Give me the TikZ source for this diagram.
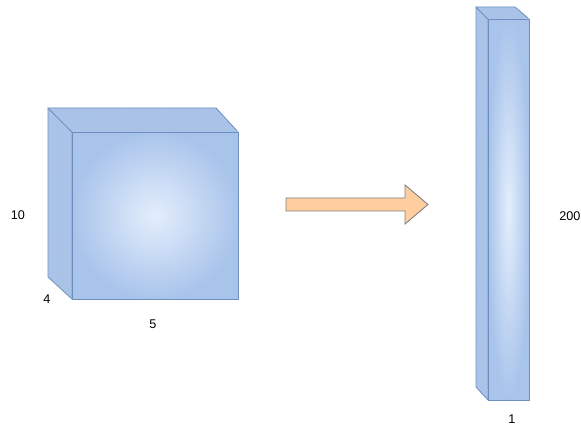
\documentclass[tikz,border=0pt]{standalone}
\usepackage{fontspec}
\setmainfont{Liberation Sans}
\usetikzlibrary{patterns.meta}

\definecolor{boxline}{HTML}{6C8EBF}
\definecolor{boxfill}{HTML}{A9C4EB}
\definecolor{boxlight}{HTML}{E4EEFC}
\definecolor{arrowfill}{HTML}{FFCE9F}
\definecolor{arrowline}{HTML}{808080}

\tikzset{
	face/.style={draw=boxline, line width=0.5pt, line join=round},
	sideface/.style={face, fill=boxfill, postaction={pattern={Lines[angle=45, distance=1.6pt, line width=0.25pt]}, pattern color=boxline!55}},
	frontface/.style={face, inner color=boxlight, outer color=boxfill},
	dimlabel/.style={font=\fontsize{7.2}{8.6}\selectfont, inner sep=0pt}
}

\begin{document}
\begin{tikzpicture}[x=0.02cm, y=-0.02cm]
			%%%%% START %%%%%
			\useasboundingbox (0, 0) rectangle (581, 428);
			
			% block 10 x 5 x 4
			\draw[sideface] (48, 108) -- (72, 132) -- (72, 299) -- (48, 277) -- cycle;
			\draw[sideface] (48, 108) -- (216, 108) -- (238, 132) -- (72, 132) -- cycle;
			\draw[frontface] (72, 132) rectangle (238, 299);
			
			\node[dimlabel] (height) at (18, 215) {10};
			\node[dimlabel] (depth) at (47, 299) {4};
			\node[dimlabel] (width) at (153, 324) {5};
			
			% reshape arrow
			\draw[fill=arrowfill, draw=arrowline, line width=0.5pt, line join=miter]
				(286, 198) -- (405, 198) -- (405, 185) -- (428, 204.5) -- (405, 224) -- (405, 211) -- (286, 211) -- cycle;
			
			% column 200 x 1
			\draw[sideface] (476, 7) -- (488, 19) -- (488, 400) -- (476, 387) -- cycle;
			\draw[sideface] (476, 7) -- (515, 7) -- (529, 19) -- (488, 19) -- cycle;
			\draw[frontface] (488, 19) rectangle (529, 400);
			
			\node[dimlabel, anchor=west] (colheight) at (559, 216) {200};
			\node[dimlabel] (colwidth) at (512, 419) {1};
			
			%%%%% END %%%%%
\end{tikzpicture}
\end{document}
